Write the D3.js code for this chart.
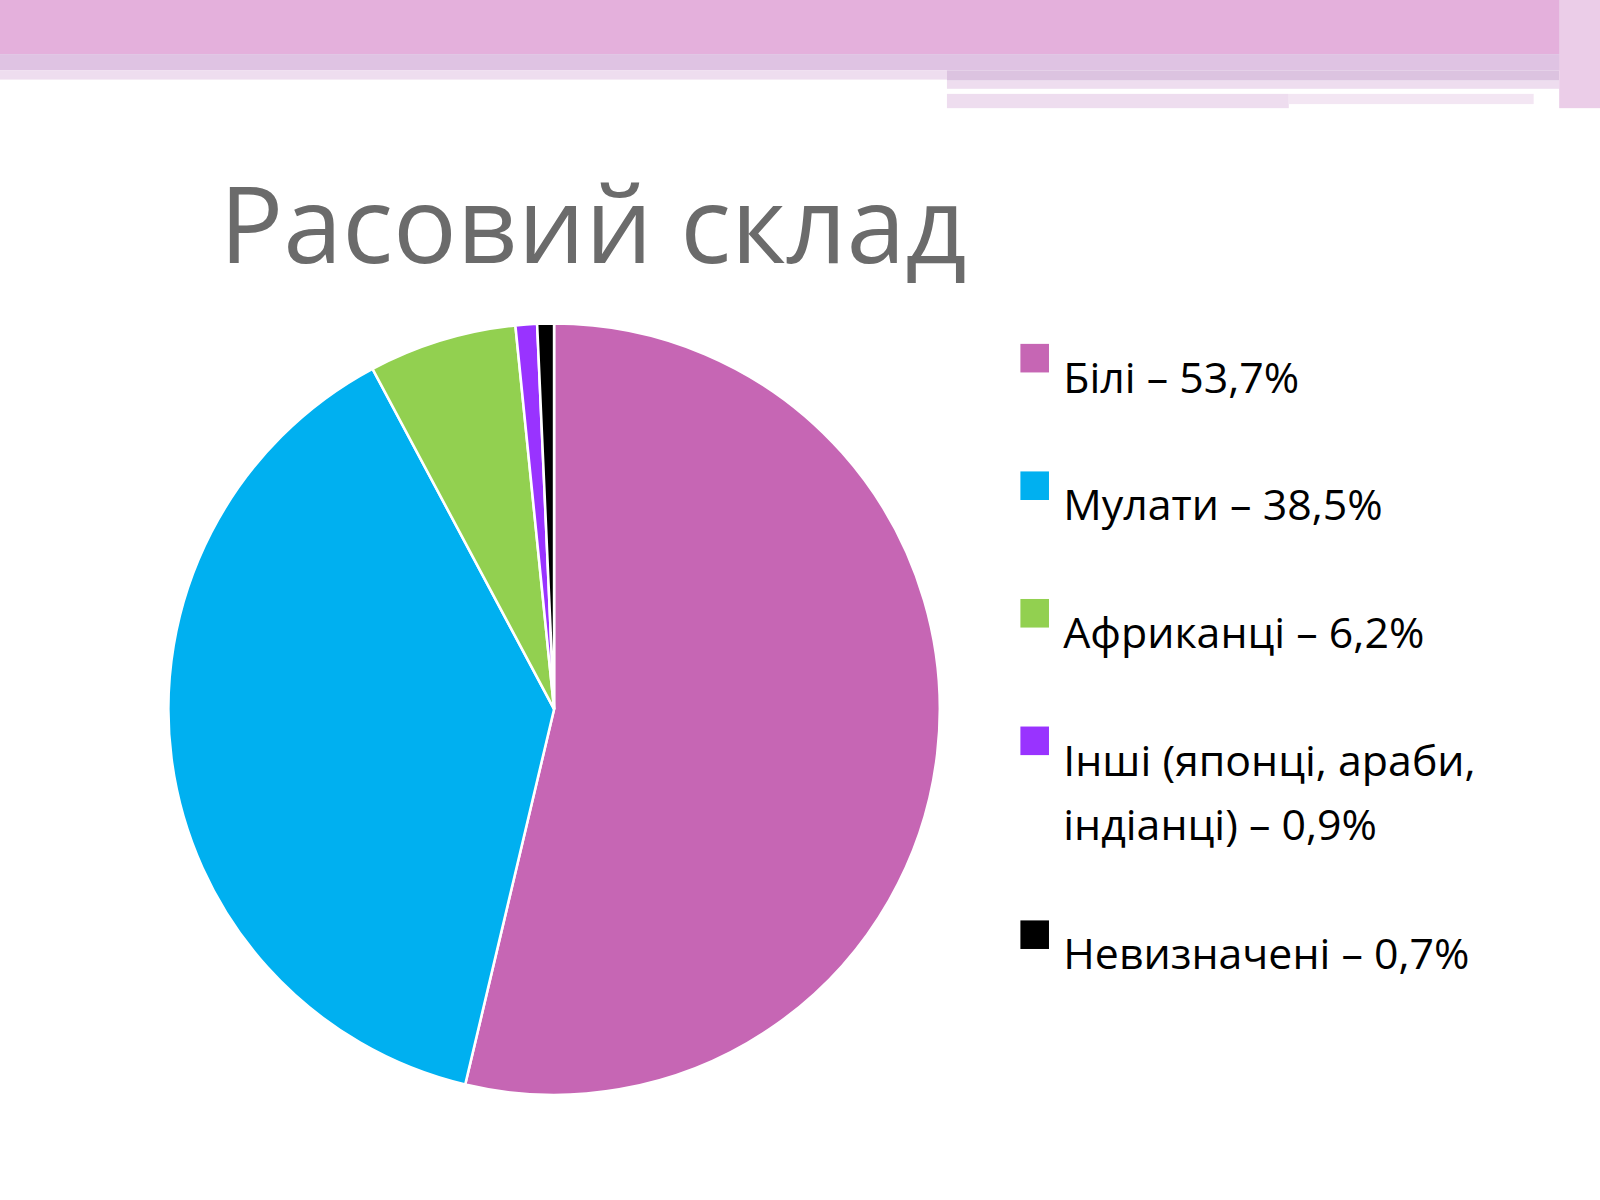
<!DOCTYPE html>
<html><head><meta charset="utf-8">
<script src="https://cdn.jsdelivr.net/npm/d3@7"></script>
<style>body{margin:0;background:#fff}</style></head>
<body><svg id="c" width="1600" height="1200"></svg>
<script>
var labels = ['Білі – 53,7%', 'Мулати – 38,5%', 'Африканці – 6,2%', 'Інші (японці, араби,|індіанці) – 0,9%', 'Невизначені  – 0,7%'];
var values = [53.7, 38.5, 6.2, 0.9, 0.7];
var colors = ['#C666B4', '#00B0F0', '#92D050', '#9933FF', '#000000'];

var k = 1600 / 1568;
var svg = d3.select('#c');
var g = svg.append('g').attr('transform', 'scale(' + k + ')');

// decorative bands at top
var bands = [
    [0, 0, 1568, 53, '#E4B0DC'],
    [0, 53, 1568, 16, '#DFC3E3'],
    [0, 69, 928, 9, '#EEDDEF'],
    [928, 69, 600, 10, '#DCC3E0'],
    [928, 79, 600, 8, '#EEDDEF'],
    [928, 92, 335, 14, '#EEDDEF'],
    [1263, 92, 240, 10, '#F3E6F3'],
    [1528, 0, 40, 106, '#EBCDE8']
];
g.selectAll('rect.band').data(bands).enter().append('rect')
    .attr('x', function(d) { return d[0]; }).attr('y', function(d) { return d[1]; })
    .attr('width', function(d) { return d[2]; }).attr('height', function(d) { return d[3]; })
    .attr('fill', function(d) { return d[4]; });

g.append('text').attr('x', 215).attr('y', 258)
    .attr('font-family', 'Open Sans, Noto Sans, sans-serif').attr('font-size', 104)
    .attr('fill', '#6B6B6B').text('Расовий склад');

var pie = d3.pie().sort(null).value(function(d) { return d; });
var arc = d3.arc().innerRadius(0).outerRadius(378);
g.append('g').attr('transform', 'translate(543,695)')
    .selectAll('path').data(pie(values)).enter().append('path')
    .attr('d', arc).attr('fill', function(d, i) { return colors[i]; })
    .attr('stroke', '#fff').attr('stroke-width', 2.5);

var rowY = [385, 510, 635, 760, 950];
var lg = g.append('g');
labels.forEach(function(t, i) {
    lg.append('rect').attr('x', 1000).attr('y', rowY[i] - 48).attr('width', 28).attr('height', 28)
        .attr('fill', colors[i]);
    var lines = t.split('|');
    var tx = lg.append('text').attr('x', 1042).attr('y', rowY[i])
        .attr('font-family', 'Open Sans, Noto Sans, sans-serif').attr('font-size', 42).attr('fill', '#000');
    lines.forEach(function(l, j) {
        tx.append('tspan').attr('x', 1042).attr('dy', j ? 63 : 0).text(l);
    });
});
</script></body></html>
